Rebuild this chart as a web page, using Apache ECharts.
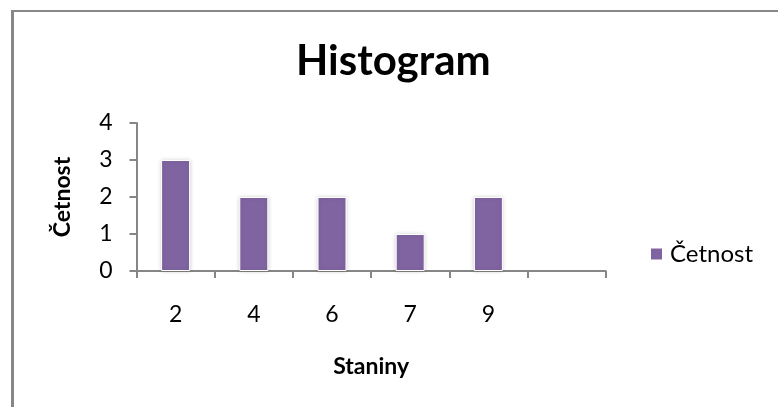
<!DOCTYPE html>
<html>
<head>
<meta charset="utf-8">
<script src="https://cdn.jsdelivr.net/npm/echarts@6/dist/echarts.min.js"></script>
<style>
  html, body { margin: 0; padding: 0; background: #fff; }
  #chart { width: 778px; height: 407px; }
</style>
</head>
<body>
<div id="chart"></div>
<script>
// Histogram bins (Staniny) and their counts (Četnost); the last bin is empty
const categories = ['2', '4', '6', '7', '9', ''];
const counts = [3, 2, 2, 1, 2, null];
const yTicks = [0, 1, 2, 3, 4];

const FONT = 'Lato, "Open Sans", sans-serif';
const AXIS_GRAY = '#868686';

const chart = echarts.init(document.getElementById('chart'), null, { renderer: 'canvas' });

chart.setOption({
  backgroundColor: '#ffffff',
  animation: false,
  title: {
    text: 'Histogram',
    left: 296,
    top: 37,
    padding: 0,
    textStyle: { fontFamily: FONT, fontSize: 42, fontWeight: 'bold', color: '#000', lineHeight: 48 }
  },
  legend: {
    data: ['Četnost'],
    left: 649,
    top: 241,
    padding: 0,
    itemWidth: 13,
    itemHeight: 13,
    itemGap: 8,
    icon: 'rect',
    textStyle: { fontFamily: FONT, fontSize: 24, color: '#000', lineHeight: 26, padding: [0, 0, 0, 2] }
  },
  grid: { left: 136.5, right: 172.3, top: 123, bottom: 136, containLabel: false },
  xAxis: {
    type: 'category',
    data: categories,
    name: 'Staniny',
    nameLocation: 'middle',
    nameGap: 84,
    nameTextStyle: { fontFamily: FONT, fontSize: 23, fontWeight: 'bold', color: '#000' },
    axisLine: { lineStyle: { color: AXIS_GRAY, width: 2 } },
    axisTick: { show: true, length: 7, alignWithLabel: false, lineStyle: { color: AXIS_GRAY, width: 2 } },
    axisLabel: { fontFamily: FONT, fontSize: 23, color: '#000', margin: 32 },
    splitLine: { show: false }
  },
  yAxis: {
    type: 'value',
    min: 0,
    max: 4,
    interval: 1,
    name: 'Četnost',
    nameLocation: 'middle',
    nameGap: 62,
    nameRotate: 90,
    nameTextStyle: { fontFamily: FONT, fontSize: 23, fontWeight: 'bold', color: '#000' },
    axisLine: { show: true, lineStyle: { color: AXIS_GRAY, width: 2 } },
    axisTick: { show: true, length: 7, lineStyle: { color: AXIS_GRAY, width: 2 } },
    axisLabel: {
      fontFamily: FONT, fontSize: 23, color: '#000', margin: 24,
      formatter: v => (yTicks.indexOf(v) >= 0 ? String(v) : '')
    },
    splitLine: { show: false }
  },
  series: [{
    name: 'Četnost',
    type: 'bar',
    data: counts,
    barWidth: 29,
    itemStyle: {
      color: '#8064A2',
      borderColor: '#ffffff',
      borderWidth: 1,
      shadowBlur: 4,
      shadowColor: 'rgba(0,0,0,0.18)'
    }
  }],
  graphic: [
    { type: 'line', shape: { x1: 12.5, y1: 10, x2: 12.5, y2: 420 }, style: { stroke: '#878787', lineWidth: 3 }, silent: true },
    { type: 'line', shape: { x1: 11, y1: 11, x2: 790, y2: 11 }, style: { stroke: '#878787', lineWidth: 2 }, silent: true }
  ]
});
</script>
</body>
</html>
